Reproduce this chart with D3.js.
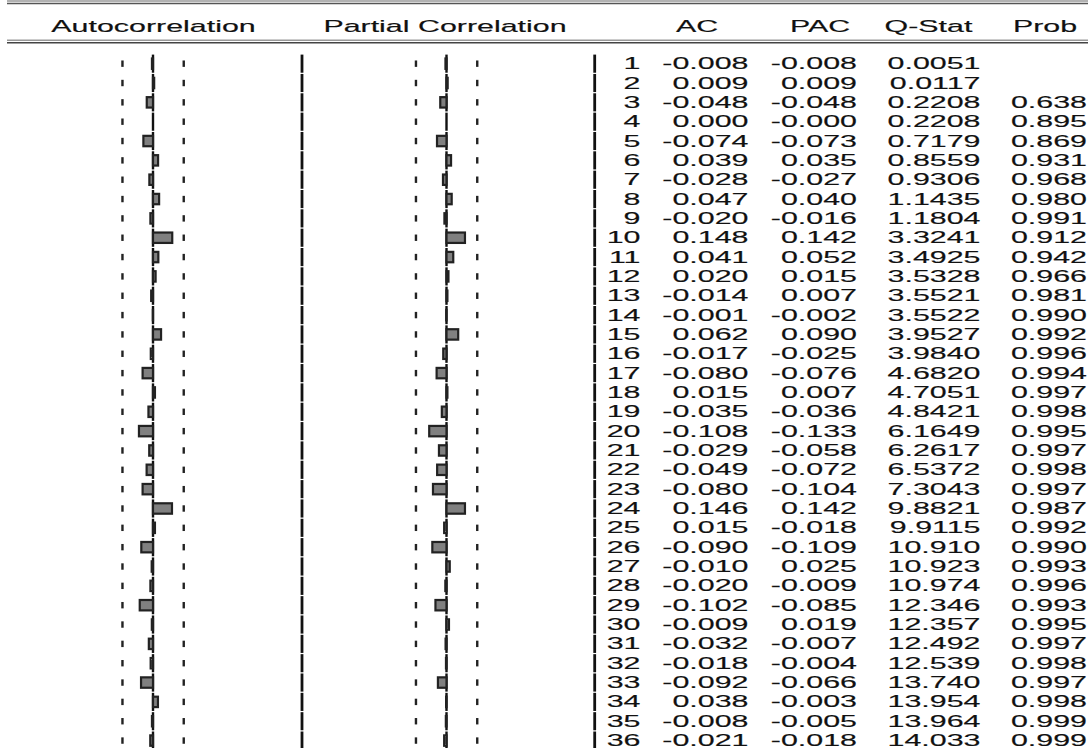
<!DOCTYPE html>
<html>
<head>
<meta charset="utf-8">
<script src="https://cdn.jsdelivr.net/npm/d3@7"></script>
<style>
  html, body { margin: 0; padding: 0; background: #fff; }
  svg { display: block; }
  text { font-family: "Liberation Sans", Arial, sans-serif; font-size: 16px; fill: #111; stroke: #111; stroke-width: 0.15; }
</style>
</head>
<body>
<div id="chart"></div>
<script>
// correlogram values
const lags = d3.range(1, 37);
const acText = ["-0.008","0.009","-0.048","0.000","-0.074","0.039","-0.028","0.047","-0.020","0.148",
  "0.041","0.020","-0.014","-0.001","0.062","-0.017","-0.080","0.015","-0.035","-0.108",
  "-0.029","-0.049","-0.080","0.146","0.015","-0.090","-0.010","-0.020","-0.102","-0.009",
  "-0.032","-0.018","-0.092","0.038","-0.008","-0.021"];
const pacText = ["-0.008","0.009","-0.048","-0.000","-0.073","0.035","-0.027","0.040","-0.016","0.142",
  "0.052","0.015","0.007","-0.002","0.090","-0.025","-0.076","0.007","-0.036","-0.133",
  "-0.058","-0.072","-0.104","0.142","-0.018","-0.109","0.025","-0.009","-0.085","0.019",
  "-0.007","-0.004","-0.066","-0.003","-0.005","-0.018"];
const qText = ["0.0051","0.0117","0.2208","0.2208","0.7179","0.8559","0.9306","1.1435","1.1804","3.3241",
  "3.4925","3.5328","3.5521","3.5522","3.9527","3.9840","4.6820","4.7051","4.8421","6.1649",
  "6.2617","6.5372","7.3043","9.8821","9.9115","10.910","10.923","10.974","12.346","12.357",
  "12.492","12.539","13.740","13.954","13.964","14.033"];
const probText = ["","","0.638","0.895","0.869","0.931","0.968","0.980","0.991","0.912",
  "0.942","0.966","0.981","0.990","0.992","0.996","0.994","0.997","0.998","0.995",
  "0.997","0.998","0.997","0.987","0.992","0.990","0.993","0.996","0.993","0.995",
  "0.997","0.998","0.997","0.998","0.999","0.999"];
const headers = ["Autocorrelation", "Partial Correlation", "AC", "PAC", "Q-Stat", "Prob"];
const nObs = 72; // bands drawn at +/- 2/sqrt(n)

const W = 1088, H = 748;
const SX = 1.9; // the picture is stretched sideways
const conf = 2 / Math.sqrt(nObs);

const svg = d3.select("#chart").append("svg")
    .attr("width", W)
    .attr("height", H);

// rows
const y = d3.scaleBand()
    .domain(lags)
    .range([54, 54 + 36 * 19.34]);

// bar scales for the two graph columns
const xAc = d3.scaleLinear().domain([-1, 1]).range([153 - 130, 153 + 130]);
const xPac = d3.scaleLinear().domain([-1, 1]).range([446.5 - 130, 446.5 + 130]);

// double rules at the top and under the header
[[1, "#999"], [3.5, "#555"], [40.2, "#999"], [42.7, "#444"]].forEach(([ly, c]) => {
  svg.append("line")
      .attr("x1", 7).attr("x2", W)
      .attr("y1", ly).attr("y2", ly)
      .attr("stroke", c).attr("stroke-width", 1.6);
});

// header labels
const headX = [153.5, 445, 697, 820, 928.5, 1045];
svg.selectAll(".head")
  .data(headers)
  .join("text")
    .attr("class", "head")
    .attr("text-anchor", "middle")
    .attr("transform", (d, i) => `translate(${headX[i]},31.5) scale(${SX},1)`)
    .text(d => d);

const rows = svg.selectAll(".row")
  .data(lags)
  .join("g")
    .attr("class", "row")
    .attr("transform", d => `translate(0,${y(d)})`);

const bh = y.bandwidth();
const mid = bh / 2;

// vertical rules drawn one cell at a time
function rule(x, w) {
  rows.append("line")
      .attr("x1", x).attr("x2", x)
      .attr("y1", 0.6).attr("y2", bh - 0.6)
      .attr("stroke", "#111").attr("stroke-width", w);
}
rule(xAc(0), 2.4);
rule(302, 2.8);
rule(xPac(0), 2.4);
rule(594.7, 2.8);

// dotted confidence bands
function dots(scale) {
  [-conf, conf].forEach(c => {
    rows.append("rect")
        .attr("x", scale(c) - 1.1)
        .attr("y", mid - 3.2)
        .attr("width", 2.4)
        .attr("height", 6.4)
        .attr("fill", "#222");
  });
}
dots(xAc);
dots(xPac);

// bars
function bars(scale, vals) {
  rows.append("rect")
      .attr("x", (d, i) => Math.min(scale(0), scale(+vals[i])))
      .attr("y", mid - 5.2)
      .attr("width", (d, i) => Math.abs(scale(+vals[i]) - scale(0)))
      .attr("height", 10.4)
      .attr("fill", "#808080")
      .attr("stroke", "#222")
      .attr("stroke-width", 2.2);
}
bars(xAc, acText);
bars(xPac, pacText);

// number columns, right aligned
const cols = [
  { right: 640.5, vals: lags.map(String) },
  { right: 748.5, vals: acText },
  { right: 857, vals: pacText },
  { right: 980.5, vals: qText },
  { right: 1087, vals: probText }
];
cols.forEach(c => {
  rows.append("text")
      .attr("text-anchor", "end")
      .attr("transform", `translate(${c.right},${mid + 5.6}) scale(${SX},1)`)
      .text((d, i) => c.vals[i]);
});
</script>
</body>
</html>
